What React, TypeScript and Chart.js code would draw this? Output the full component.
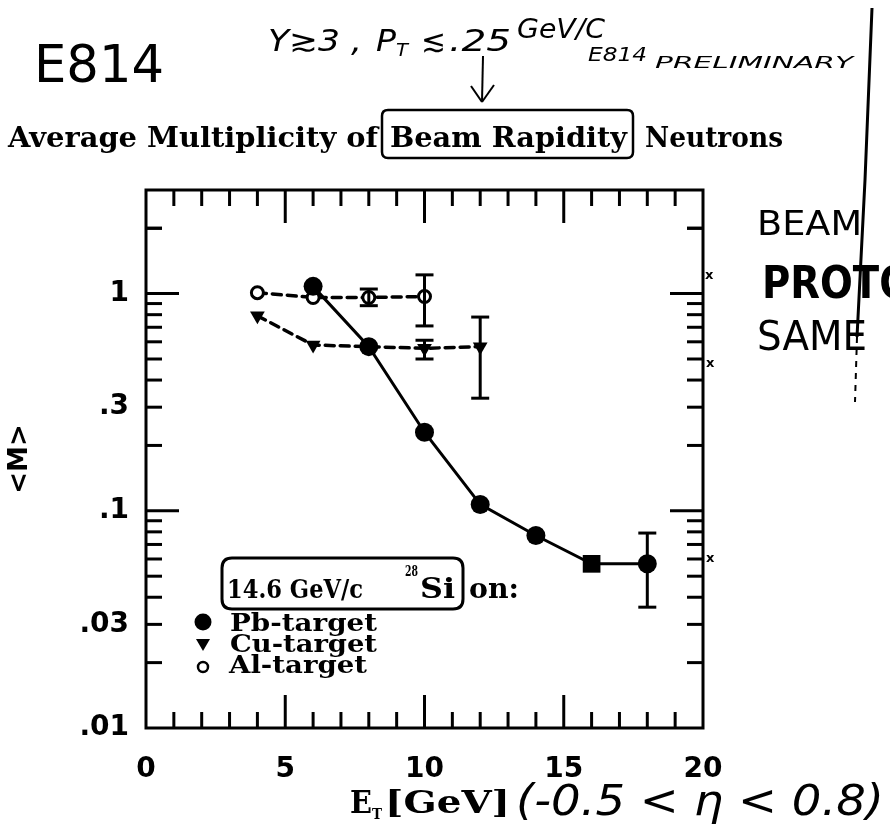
import React, { useEffect, useRef } from 'react';
import { Chart, registerables } from 'chart.js';

Chart.register(...registerables);

// Transverse energy bins (GeV) and average multiplicity <M> per target
const pbEt = [6, 8, 10, 12, 14, 16, 18];
const pbM = [1.08, 0.57, 0.23, 0.107, 0.077, 0.057, 0.057];
const cuEt = [4, 6, 10, 12];
const cuM = [0.79, 0.58, 0.56, 0.57];
const alEt = [4, 6, 8, 10];
const alM = [1.01, 0.96, 0.96, 0.97];

// Error bars: E_T, lower and upper bound of <M>
const pbErrEt = [18];
const pbErrLo = [0.036];
const pbErrHi = [0.079];
const cuErrEt = [10, 12];
const cuErrLo = [0.5, 0.33];
const cuErrHi = [0.61, 0.78];
const alErrEt = [8, 10];
const alErrLo = [0.88, 0.71];
const alErrHi = [1.05, 1.22];

const xTickValues = [0, 5, 10, 15, 20];
const yTickValues = [0.01, 0.03, 0.1, 0.3, 1];
const yTickLabels = ['.01', '.03', '.1', '.3', '1'];

const INK = '#000';

// Draws text stretched horizontally so that it spans exactly `w` pixels.
function fitText(ctx: CanvasRenderingContext2D, text: string, x: number, y: number, w: number, font: string) {
  ctx.save();
  ctx.font = font;
  ctx.textAlign = 'left';
  ctx.textBaseline = 'alphabetic';
  const m = ctx.measureText(text).width || 1;
  ctx.translate(x, y);
  ctx.scale(w / m, 1);
  ctx.fillStyle = INK;
  ctx.fillText(text, 0, 0);
  ctx.restore();
}

function seg(ctx: CanvasRenderingContext2D, x1: number, y1: number, x2: number, y2: number) {
  ctx.beginPath();
  ctx.moveTo(x1, y1);
  ctx.lineTo(x2, y2);
  ctx.stroke();
}

function roundBox(ctx: CanvasRenderingContext2D, x: number, y: number, w: number, h: number, r: number) {
  ctx.beginPath();
  ctx.moveTo(x + r, y);
  ctx.lineTo(x + w - r, y);
  ctx.quadraticCurveTo(x + w, y, x + w, y + r);
  ctx.lineTo(x + w, y + h - r);
  ctx.quadraticCurveTo(x + w, y + h, x + w - r, y + h);
  ctx.lineTo(x + r, y + h);
  ctx.quadraticCurveTo(x, y + h, x, y + h - r);
  ctx.lineTo(x, y + r);
  ctx.quadraticCurveTo(x, y, x + r, y);
  ctx.closePath();
  ctx.stroke();
}

// Frame with inward ticks on all four sides
const framePlugin = {
  id: 'frameTicks',
  afterDraw(chart: any) {
    const { ctx, chartArea: a, scales } = chart;
    const x = scales.x;
    const y = scales.y;
    ctx.save();
    ctx.strokeStyle = INK;
    ctx.lineWidth = 3;
    ctx.strokeRect(a.left, a.top, a.right - a.left, a.bottom - a.top);
    for (let v = 1; v < 20; v++) {
      const px = x.getPixelForValue(v);
      const L = v % 5 === 0 ? 33 : 16;
      seg(ctx, px, a.bottom, px, a.bottom - L);
      seg(ctx, px, a.top, px, a.top + L);
    }
    for (let e = -2; e <= 0; e++) {
      for (let m = 1; m <= 9; m++) {
        const v = m * Math.pow(10, e);
        if (v <= 0.0100001 || v >= 2.9999) continue;
        const py = y.getPixelForValue(v);
        const L = m === 1 ? 33 : 16;
        seg(ctx, a.left, py, a.left + L, py);
        seg(ctx, a.right, py, a.right - L, py);
      }
    }
    const py2 = y.getPixelForValue(2);
    seg(ctx, a.left, py2, a.left + 16, py2);
    seg(ctx, a.right, py2, a.right - 16, py2);
    ctx.restore();
  },
};

// Vertical error bars with caps
const errorBarPlugin = {
  id: 'errorBars',
  afterDatasetsDraw(chart: any) {
    const { ctx, scales } = chart;
    const x = scales.x;
    const y = scales.y;
    const groups = [
      [pbErrEt, pbErrLo, pbErrHi],
      [cuErrEt, cuErrLo, cuErrHi],
      [alErrEt, alErrLo, alErrHi],
    ];
    ctx.save();
    ctx.strokeStyle = INK;
    ctx.lineWidth = 3;
    groups.forEach(([et, lo, hi]) => {
      et.forEach((v, i) => {
        const px = x.getPixelForValue(v);
        const yl = y.getPixelForValue(lo[i]);
        const yh = y.getPixelForValue(hi[i]);
        seg(ctx, px, yl, px, yh);
        seg(ctx, px - 9, yl, px + 9, yl);
        seg(ctx, px - 9, yh, px + 9, yh);
      });
    });
    ctx.restore();
  },
};

// Title, legend box, axis label and the hand-written notes
const notesPlugin = {
  id: 'notes',
  afterDraw(chart: any) {
    const { ctx } = chart;
    const serifB = (s: number) => `bold ${s}px "DejaVu Serif"`;
    const hand = (s: number) => `${s}px "DejaVu Sans"`;
    const handI = (s: number) => `oblique ${s}px "DejaVu Sans"`;
    ctx.save();
    ctx.strokeStyle = INK;
    ctx.fillStyle = INK;

    // Printed title with the boxed phrase
    fitText(ctx, 'Average Multiplicity of', 8, 147, 370, serifB(27));
    fitText(ctx, 'Beam Rapidity', 390, 147, 237, serifB(27));
    fitText(ctx, 'Neutrons', 645, 147, 138, serifB(27));
    ctx.lineWidth = 2.5;
    roundBox(ctx, 382, 110, 251, 48, 6);

    // Hand-written header
    fitText(ctx, 'E814', 34, 82, 130, hand(52));
    fitText(ctx, 'Y≳3 ,', 268, 51, 94, handI(30));
    fitText(ctx, 'P', 376, 51, 20, handI(30));
    fitText(ctx, 'T', 396, 56, 12, handI(18));
    fitText(ctx, '≲', 421, 51, 25, handI(30));
    fitText(ctx, '.25', 449, 51, 62, handI(30));
    fitText(ctx, 'GeV/C', 517, 38, 88, handI(26));
    fitText(ctx, 'E814', 588, 61, 59, handI(20));
    fitText(ctx, 'PRELIMINARY', 655, 68, 198, handI(15));
    // arrow pointing at the boxed phrase
    ctx.lineWidth = 2;
    seg(ctx, 483, 56, 482, 102);
    seg(ctx, 471, 86, 482, 102);
    seg(ctx, 494, 85, 482, 102);

    // Right-hand margin note
    fitText(ctx, 'BEAM', 757, 235, 105, hand(34));
    fitText(ctx, 'PROTO', 762, 298, 150, `bold 44px "DejaVu Sans"`);
    fitText(ctx, 'SAME', 757, 350, 110, hand(40));
    ctx.lineWidth = 3;
    ctx.beginPath();
    ctx.moveTo(872, 8);
    ctx.lineTo(865, 180);
    ctx.lineTo(857, 337);
    ctx.stroke();
    ctx.save();
    ctx.setLineDash([6, 6]);
    ctx.lineWidth = 2;
    seg(ctx, 857, 337, 855, 402);
    ctx.restore();
    ctx.font = 'bold 13px "DejaVu Sans"';
    ctx.fillText('x', 705, 279);
    ctx.fillText('x', 706, 367);
    ctx.fillText('x', 706, 562);

    // Legend inside the frame
    ctx.lineWidth = 3;
    roundBox(ctx, 222, 558, 241, 51, 10);
    fitText(ctx, '14.6 GeV/c', 227, 598, 136, serifB(26));
    fitText(ctx, '28', 405, 576, 13, serifB(14));
    fitText(ctx, 'Si', 420, 598, 35, serifB(27));
    fitText(ctx, 'on:', 469, 598, 50, serifB(27));
    // Pb marker
    ctx.beginPath();
    ctx.arc(203, 622, 8.5, 0, Math.PI * 2);
    ctx.fill();
    // Cu marker (downward triangle)
    ctx.beginPath();
    ctx.moveTo(196, 639);
    ctx.lineTo(210, 639);
    ctx.lineTo(203, 651);
    ctx.closePath();
    ctx.fill();
    // Al marker (open circle)
    ctx.lineWidth = 2.5;
    ctx.beginPath();
    ctx.arc(203, 667, 5, 0, Math.PI * 2);
    ctx.stroke();
    fitText(ctx, 'Pb-target', 230, 631, 147, serifB(25));
    fitText(ctx, 'Cu-target', 230, 652, 147, serifB(25));
    fitText(ctx, 'Al-target', 229, 673, 138, serifB(25));

    // x-axis title
    fitText(ctx, 'E', 350, 813, 22, serifB(31));
    fitText(ctx, 'T', 372, 819, 10, serifB(14));
    fitText(ctx, '[GeV]', 385, 813, 125, serifB(31));
    fitText(ctx, '(-0.5 < η < 0.8)', 516, 815, 368, handI(42));

    ctx.restore();
  },
};

export default function App() {
  const canvasRef = useRef<HTMLCanvasElement | null>(null);

  useEffect(() => {
    const canvas = canvasRef.current;
    if (!canvas) return;
    const tickFont = { family: '"DejaVu Sans"', weight: 'bold' as const, size: 28 };

    const chart = new Chart(canvas, {
      type: 'line',
      data: {
        datasets: [
          {
            label: 'Pb-target',
            data: pbEt.map((x, i) => ({ x, y: pbM[i] })),
            borderColor: INK,
            borderWidth: 3,
            backgroundColor: INK,
            pointBackgroundColor: INK,
            pointBorderColor: INK,
            pointStyle: (c: any) => (pbEt[c.dataIndex] === 16 ? 'rect' : 'circle'),
            pointRadius: (c: any) => (pbEt[c.dataIndex] === 16 ? 12.5 : 9.5),
            pointBorderWidth: 0,
            tension: 0,
          },
          {
            label: 'Cu-target',
            data: cuEt.map((x, i) => ({ x, y: cuM[i] })),
            borderColor: INK,
            borderWidth: 3.5,
            borderDash: [9, 6],
            borderCapStyle: 'round',
            pointStyle: 'triangle',
            rotation: 180,
            pointRadius: 8.5,
            pointBackgroundColor: INK,
            pointBorderColor: INK,
            pointBorderWidth: 0,
            tension: 0,
          },
          {
            label: 'Al-target',
            data: alEt.map((x, i) => ({ x, y: alM[i] })),
            borderColor: INK,
            borderWidth: 3.5,
            borderDash: [9, 6],
            borderCapStyle: 'round',
            pointStyle: 'circle',
            pointRadius: 6,
            pointBackgroundColor: '#fff',
            pointBorderColor: INK,
            pointBorderWidth: 3,
            tension: 0,
          },
        ],
      },
      options: {
        responsive: false,
        animation: false,
        devicePixelRatio: 1,
        layout: { padding: { left: 0, top: 190, right: 187, bottom: 0 } },
        plugins: {
          legend: { display: false },
          tooltip: { enabled: false },
          title: { display: false },
        },
        scales: {
          x: {
            type: 'linear',
            min: 0,
            max: 20,
            afterFit: (s: any) => {
              s.height = 106;
            },
            afterBuildTicks: (s: any) => {
              s.ticks = xTickValues.map((v) => ({ value: v }));
            },
            ticks: {
              color: INK,
              font: tickFont,
              padding: 25,
              maxRotation: 0,
              autoSkip: false,
            },
            grid: { display: false, drawTicks: false },
            border: { display: false },
          },
          y: {
            type: 'logarithmic',
            min: 0.01,
            max: 3,
            afterFit: (s: any) => {
              s.width = 146;
            },
            afterBuildTicks: (s: any) => {
              s.ticks = yTickValues.map((v) => ({ value: v }));
            },
            ticks: {
              color: INK,
              font: tickFont,
              padding: 17,
              autoSkip: false,
              callback: (v: any) => {
                const i = yTickValues.indexOf(Number(v));
                return i >= 0 ? yTickLabels[i] : '';
              },
            },
            title: {
              display: true,
              text: '<M>',
              color: INK,
              font: { family: '"DejaVu Sans"', weight: 'bold', size: 26 },
              padding: { top: 5, bottom: 0 },
            },
            grid: { display: false, drawTicks: false },
            border: { display: false },
          },
        },
      },
      plugins: [errorBarPlugin, framePlugin, notesPlugin],
    } as any);

    return () => chart.destroy();
  }, []);

  return (
    <div style={{ position: 'fixed', left: 0, top: 0, width: 890, height: 834, background: '#fff' }}>
      <canvas ref={canvasRef} width={890} height={834} style={{ display: 'block' }} />
    </div>
  );
}
